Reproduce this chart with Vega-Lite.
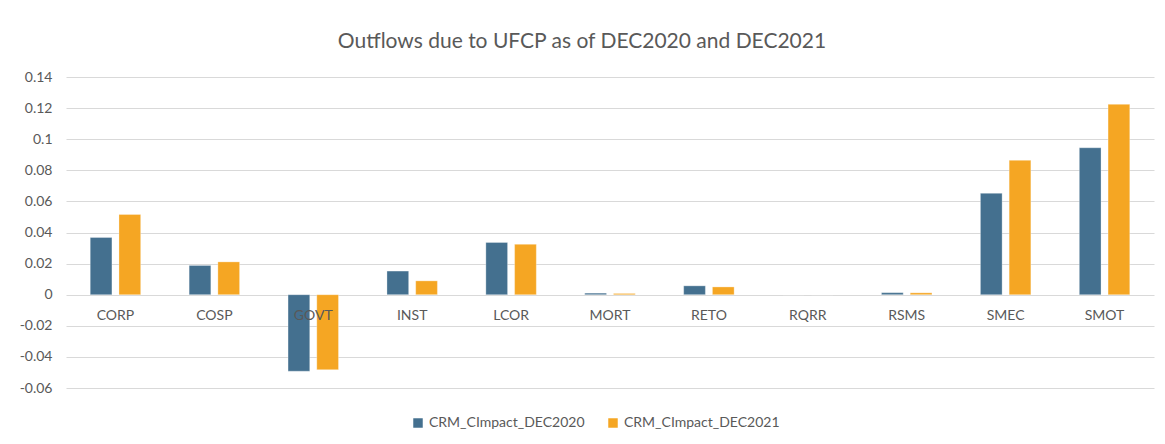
{
  "$schema": "https://vega.github.io/schema/vega-lite/v6.json",
  "width": 1088,
  "height": 311,
  "autosize": {"type": "none"},
  "padding": {"left": 66, "top": 77, "right": 11, "bottom": 56},
  "background": "white",
  "title": {
    "text": "Outflows due to UFCP as of DEC2020 and DEC2021",
    "anchor": "middle",
    "dx": -28,
    "offset": 18,
    "font": "Lato",
    "fontSize": 21,
    "fontWeight": "normal",
    "color": "#595959"
  },
  "config": {
    "view": {"stroke": null},
    "font": "Lato",
    "axis": {"labelColor": "#595959", "labelFont": "Lato", "labelFontSize": 14}
  },
  "data": {
    "values": [
      {"category": "CORP", "series": "CRM_CImpact_DEC2020", "value": 0.0368},
      {"category": "CORP", "series": "CRM_CImpact_DEC2021", "value": 0.0516},
      {"category": "COSP", "series": "CRM_CImpact_DEC2020", "value": 0.0188},
      {"category": "COSP", "series": "CRM_CImpact_DEC2021", "value": 0.0211},
      {"category": "GOVT", "series": "CRM_CImpact_DEC2020", "value": -0.0492},
      {"category": "GOVT", "series": "CRM_CImpact_DEC2021", "value": -0.0482},
      {"category": "INST", "series": "CRM_CImpact_DEC2020", "value": 0.0152},
      {"category": "INST", "series": "CRM_CImpact_DEC2021", "value": 0.0089},
      {"category": "LCOR", "series": "CRM_CImpact_DEC2020", "value": 0.0336},
      {"category": "LCOR", "series": "CRM_CImpact_DEC2021", "value": 0.0324},
      {"category": "MORT", "series": "CRM_CImpact_DEC2020", "value": 0.001},
      {"category": "MORT", "series": "CRM_CImpact_DEC2021", "value": 0.0008},
      {"category": "RETO", "series": "CRM_CImpact_DEC2020", "value": 0.0057},
      {"category": "RETO", "series": "CRM_CImpact_DEC2021", "value": 0.005},
      {"category": "RQRR", "series": "CRM_CImpact_DEC2020", "value": 0},
      {"category": "RQRR", "series": "CRM_CImpact_DEC2021", "value": 0},
      {"category": "RSMS", "series": "CRM_CImpact_DEC2020", "value": 0.0013},
      {"category": "RSMS", "series": "CRM_CImpact_DEC2021", "value": 0.0012},
      {"category": "SMEC", "series": "CRM_CImpact_DEC2020", "value": 0.0652},
      {"category": "SMEC", "series": "CRM_CImpact_DEC2021", "value": 0.0864},
      {"category": "SMOT", "series": "CRM_CImpact_DEC2020", "value": 0.0945},
      {"category": "SMOT", "series": "CRM_CImpact_DEC2021", "value": 0.1224}
    ]
  },
  "encoding": {
    "x": {
      "field": "category",
      "type": "nominal",
      "sort": null,
      "scale": {"paddingInner": 0.49, "paddingOuter": 0.245},
      "axis": null
    }
  },
  "layer": [
    {
      "mark": {"type": "bar", "stroke": "white", "strokeWidth": 0.5, "strokeOpacity": 0.6},
      "encoding": {
        "xOffset": {"field": "series", "type": "nominal", "scale": {"paddingInner": 0.245}},
        "y": {
          "field": "value",
          "type": "quantitative",
          "scale": {"domain": [-0.06, 0.14], "nice": false, "zero": false},
          "axis": {
            "title": null,
            "values": [-0.06, -0.04, -0.02, 0, 0.02, 0.04, 0.06, 0.08, 0.1, 0.12, 0.14],
            "tickCount": 20,
            "labelExpr": "'' + round(datum.value * 100) / 100",
            "labelOverlap": false,
            "domain": false,
            "ticks": false,
            "labelPadding": 14,
            "grid": true,
            "gridColor": "#d9d9d9",
            "gridWidth": 1
          }
        },
        "color": {
          "field": "series",
          "type": "nominal",
          "scale": {"range": ["#44708f", "#f5a623"]},
          "legend": {
            "title": null,
            "orient": "none",
            "direction": "horizontal",
            "legendX": 345,
            "legendY": 339,
            "symbolType": "square",
            "symbolSize": 90,
            "symbolStrokeWidth": 0,
            "labelFontSize": 14,
            "labelColor": "#595959",
            "labelFont": "Lato",
            "labelOffset": 4,
            "columnPadding": 21
          }
        }
      }
    },
    {
      "transform": [{"filter": "datum.series == 'CRM_CImpact_DEC2020'"}],
      "mark": {"type": "text", "dy": 21, "baseline": "middle", "align": "center", "fontSize": 14, "color": "#595959", "font": "Lato"},
      "encoding": {
        "y": {"datum": 0},
        "text": {"field": "category"}
      }
    }
  ]
}
